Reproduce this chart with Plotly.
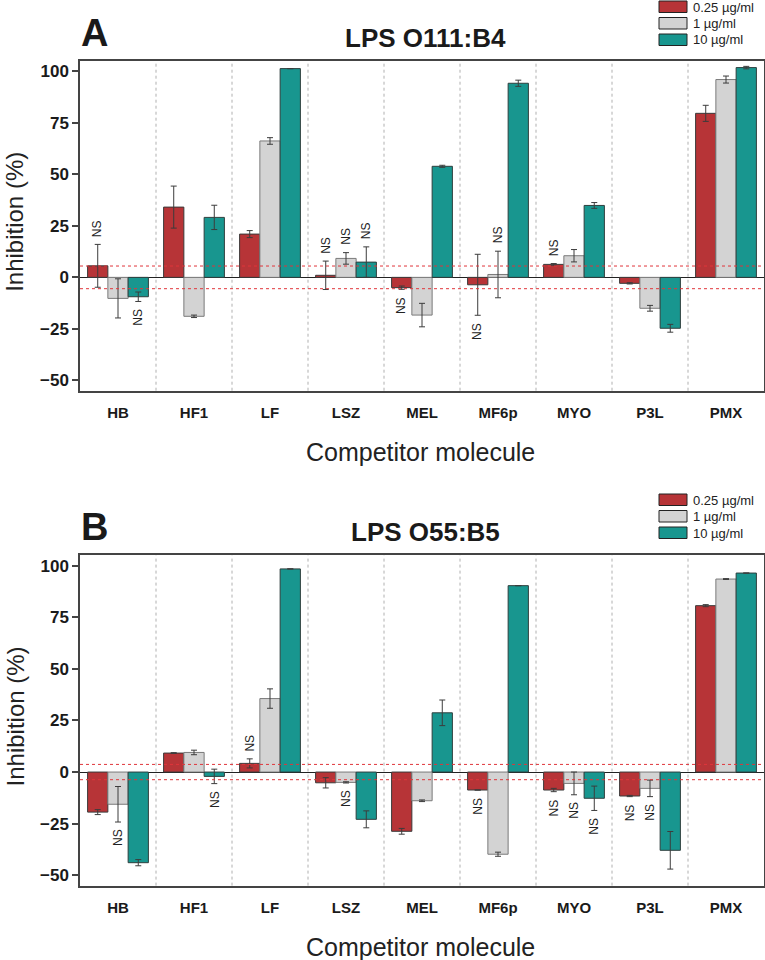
import plotly.graph_objects as go

# ---------------- data ----------------
categories = ["HB", "HF1", "LF", "LSZ", "MEL", "MF6p", "MYO", "P3L", "PMX"]
series_names = ["0.25 µg/ml", "1 µg/ml", "10 µg/ml"]
series_colors = ["#B73437", "#D3D3D3", "#18968F"]
outline_colors = ["#3a3a3a", "#7a7a7a", "#2f3f3e"]

# Panel A: LPS O111:B4
A_low = [5.6, 34.1, 21.0, 1.0, -5.0, -3.6, 6.3, -2.9, 79.6]
A_low_err = [10.4, 10.2, 1.7, 6.9, 0.8, 14.8, 0.4, 0.3, 3.9]
A_mid = [-10.2, -18.9, 66.2, 9.2, -18.3, 1.4, 10.5, -15.0, 96.0]
A_mid_err = [9.5, 0.6, 1.6, 2.8, 5.7, 11.3, 3.0, 1.4, 1.7]
A_high = [-9.4, 29.1, 101.3, 7.4, 53.9, 94.2, 34.9, -24.7, 101.8]
A_high_err = [2.3, 5.9, None, 7.4, 0.5, 1.5, 1.4, 1.9, 0.6]
A_low_ns = [1, 0, 0, 1, 1, 1, 1, 0, 0]
A_mid_ns = [0, 0, 0, 1, 0, 1, 0, 0, 0]
A_high_ns = [1, 0, 0, 1, 0, 0, 0, 0, 0]
A_threshold = 5.5

# Panel B: LPS O55:B5
B_low = [-19.4, 9.2, 4.2, -5.2, -28.7, -8.7, -8.7, -11.6, 80.6]
B_low_err = [1.2, 0.2, 2.2, 2.5, 1.4, None, 0.8, 0.3, 0.5]
B_mid = [-15.6, 9.5, 35.6, -5.0, -13.9, -39.8, -5.5, -7.9, 93.5]
B_mid_err = [8.6, 1.1, 4.7, 0.3, 0.4, 1.0, 5.5, 4.0, 0.2]
B_high = [-43.9, -2.1, 98.4, -22.9, 28.7, 90.3, -12.7, -37.9, 96.4]
B_high_err = [1.5, 3.5, None, 4.1, 6.2, None, 5.9, 9.1, None]
B_low_ns = [0, 0, 1, 0, 0, 1, 1, 1, 0]
B_mid_ns = [1, 0, 0, 1, 0, 0, 1, 1, 0]
B_high_ns = [0, 1, 0, 0, 0, 0, 1, 0, 0]
B_threshold = 3.7

y_ticks = [-50, -25, 0, 25, 50, 75, 100]
panel_letters = ["A", "B"]
panel_titles = ["LPS O111:B4", "LPS O55:B5"]
x_title = "Competitor molecule"
y_title = "Inhibition (%)"

# ---------------- layout geometry (pixels) ----------------
W, H = 765, 960
FONT = "Liberation Sans, Arial, sans-serif"
plot_left, plot_right = 80, 764
panels = [
    dict(top=61.0, bottom=390.7, vals=[A_low, A_mid, A_high],
         errs=[A_low_err, A_mid_err, A_high_err],
         ns=[A_low_ns, A_mid_ns, A_high_ns], thr=A_threshold, legend_top=1.0),
    dict(top=555.3, bottom=885.6, vals=[B_low, B_mid, B_high],
         errs=[B_low_err, B_mid_err, B_high_err],
         ns=[B_low_ns, B_mid_ns, B_high_ns], thr=B_threshold, legend_top=494.0),
]


def fx(p):
    return p / W


def fy(p):
    return 1 - p / H


fig = go.Figure()
annotations = []
shapes = []
bar_offsets = [-0.8 / 3, 0.0, 0.8 / 3]

for pi, P in enumerate(panels):
    xa = "x" if pi == 0 else "x2"
    ya = "y" if pi == 0 else "y2"
    for si in range(3):
        fig.add_trace(go.Bar(
            x=categories, y=P["vals"][si], name=series_names[si],
            xaxis=xa, yaxis=ya, showlegend=False,
            marker=dict(color=series_colors[si],
                        line=dict(color=outline_colors[si], width=1)),
            error_y=dict(type="data", array=P["errs"][si], visible=True,
                         color="#3c3c3c", thickness=1, width=3),
        ))
        # NS labels
        for ci, flag in enumerate(P["ns"][si]):
            if not flag:
                continue
            v = P["vals"][si][ci]
            e = P["errs"][si][ci] or 0
            sgn = 1 if v >= 0 else -1
            annotations.append(dict(
                x=ci + bar_offsets[si], y=v + sgn * e, xref=xa, yref=ya,
                text="NS", showarrow=False, textangle=-90,
                yshift=sgn * 16, xanchor="center", yanchor="middle",
                font=dict(family=FONT, size=12, color="#222"),
            ))
    # category separators
    for k in range(len(categories) - 1):
        shapes.append(dict(type="line", xref=xa, yref=ya + " domain",
                           x0=k + 0.5, x1=k + 0.5, y0=0, y1=1,
                           line=dict(color="#b0b0b0", width=1, dash="dot"),
                           layer="below"))
    # significance threshold lines
    for sgn in (1, -1):
        shapes.append(dict(type="line", xref=xa + " domain", yref=ya,
                           x0=0, x1=1, y0=sgn * P["thr"], y1=sgn * P["thr"],
                           line=dict(color="#e0353b", width=1, dash="dot"),
                           layer="above"))
    # panel letter + title
    off = P["top"] - 61.0
    annotations.append(dict(x=fx(79), y=fy(33 + off), xref="paper", yref="paper",
                            text="<b>%s</b>" % panel_letters[pi], showarrow=False,
                            xanchor="left", yanchor="middle",
                            font=dict(family=FONT, size=38, color="#1a1a1a")))
    annotations.append(dict(x=fx(425), y=fy(38 + off), xref="paper", yref="paper",
                            text="<b>%s</b>" % panel_titles[pi], showarrow=False,
                            xanchor="center", yanchor="middle",
                            font=dict(family=FONT, size=26, color="#1a1a1a")))
    # axis titles
    annotations.append(dict(x=fx(15), y=fy((P["top"] + P["bottom"]) / 2 - 4),
                            xref="paper", yref="paper", text=y_title,
                            showarrow=False, textangle=-90,
                            xanchor="center", yanchor="middle",
                            font=dict(family=FONT, size=24, color="#222")))
    annotations.append(dict(x=fx(420), y=fy(P["bottom"] + 61),
                            xref="paper", yref="paper", text=x_title,
                            showarrow=False, xanchor="center", yanchor="middle",
                            font=dict(family=FONT, size=25, color="#222")))
    # legend (drawn from series lists)
    for si in range(3):
        top = P["legend_top"] + si * 16.5
        shapes.append(dict(type="rect", xref="paper", yref="paper",
                           x0=fx(659), x1=fx(687), y0=fy(top + 11.5), y1=fy(top),
                           fillcolor=series_colors[si],
                           line=dict(color="#222", width=1)))
        annotations.append(dict(x=fx(691), y=fy(top + 6), xref="paper", yref="paper",
                                text=series_names[si], showarrow=False,
                                xanchor="left", yanchor="middle",
                                font=dict(family=FONT, size=13, color="#222")))

axis_common_x = dict(type="category", categoryorder="array", categoryarray=categories,
                     range=[-0.5, len(categories) - 0.5], showline=True, mirror=True,
                     linecolor="#444", linewidth=1.5, ticks="", showgrid=False,
                     zeroline=False, ticklabelstandoff=8,
                     tickfont=dict(family=FONT, size=15, color="#1a1a1a", weight="bold"),
                     domain=[fx(plot_left), fx(plot_right)])
axis_common_y = dict(range=[-55, 105], tickvals=y_ticks, ticks="outside", ticklen=6,
                     tickwidth=1.5, tickcolor="#444", showline=True, mirror=True,
                     linecolor="#444", linewidth=1.5, showgrid=False,
                     zeroline=True, zerolinecolor="#222", zerolinewidth=1,
                     tickfont=dict(family=FONT, size=17, color="#1a1a1a", weight="bold"))

fig.update_layout(
    width=W, height=H, autosize=False,
    margin=dict(l=0, r=0, t=0, b=0),
    paper_bgcolor="white", plot_bgcolor="white",
    barmode="group", bargap=0.2, bargroupgap=0,
    xaxis=dict(axis_common_x, anchor="y"),
    yaxis=dict(axis_common_y, anchor="x",
               domain=[fy(panels[0]["bottom"]), fy(panels[0]["top"])]),
    xaxis2=dict(axis_common_x, anchor="y2"),
    yaxis2=dict(axis_common_y, anchor="x2",
                domain=[fy(panels[1]["bottom"]), fy(panels[1]["top"])]),
    annotations=annotations, shapes=shapes,
    font=dict(family=FONT),
)

fig.write_html("out.html", config={"displayModeBar": False},
               post_script="document.body.style.margin='0';document.body.style.overflow='hidden';")
